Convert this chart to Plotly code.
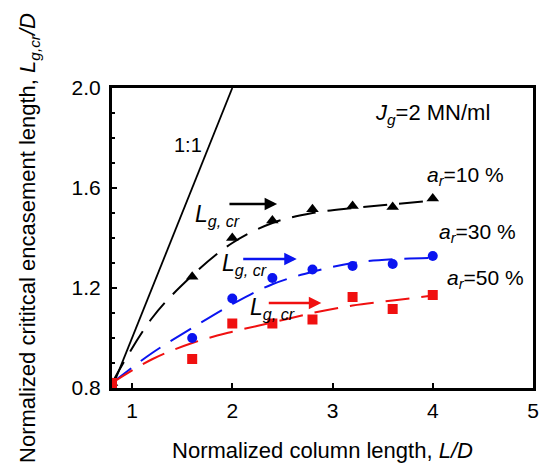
import plotly.graph_objects as go

# measured data (markers)
x_pts = [0.8, 1.6, 2.0, 2.4, 2.8, 3.2, 3.6, 4.0]
y_ar10 = [0.82, 1.245, 1.40, 1.47, 1.515, 1.528, 1.524, 1.558]
y_ar30 = [0.82, 1.00, 1.158, 1.24, 1.274, 1.288, 1.296, 1.328]
y_ar50 = [0.82, 0.916, 1.058, 1.058, 1.074, 1.164, 1.116, 1.172]

# fitted trend curves
x_fit = [0.8, 1.2, 1.6, 2.0, 2.4, 2.8, 3.2, 3.6, 4.0]
fit_ar10 = [0.82, 1.08, 1.25, 1.38, 1.46, 1.50, 1.52, 1.535, 1.55]
fit_ar30 = [0.82, 0.94, 1.04, 1.135, 1.215, 1.265, 1.30, 1.315, 1.32]
fit_ar50 = [0.82, 0.915, 0.98, 1.025, 1.062, 1.10, 1.13, 1.15, 1.17]

# 1:1 line
x_one = [0.8, 2.0]
y_one = [0.8, 2.0]

FONT = "Arial, Liberation Sans, sans-serif"
colors = {"k": "black", "b": "#0a14f0", "r": "#f01010"}

fig = go.Figure()
fig.add_trace(go.Scatter(x=x_one, y=y_one, mode="lines",
                         line=dict(color="black", width=1.8), showlegend=False))

for fit, col in [(fit_ar10, colors["k"]), (fit_ar30, colors["b"]), (fit_ar50, colors["r"])]:
    fig.add_trace(go.Scatter(x=x_fit, y=fit, mode="lines",
                             line=dict(color=col, width=2, dash="24px,12px", shape="spline"),
                             showlegend=False))

for ys, col, sym, sz in [(y_ar10, colors["k"], "triangle-up", 11),
                         (y_ar30, colors["b"], "circle", 10),
                         (y_ar50, colors["r"], "square", 10)]:
    fig.add_trace(go.Scatter(x=x_pts, y=ys, mode="markers",
                             marker=dict(color=col, symbol=sym, size=sz),
                             showlegend=False))

def px2x(px):
    return 0.8 + (px - 112) / 102.0

def py2y(py):
    return 2.0 - (py - 88) * 0.004

ann = []
# arrows
for (x0, x1, yy, col) in [(230, 280, 204, colors["k"]), (244, 300, 259, colors["b"]), (270, 325, 303, colors["r"])]:
    ann.append(dict(x=px2x(x1), y=py2y(yy), ax=px2x(x0), ay=py2y(yy), xref="x", yref="y",
                    axref="x", ayref="y", showarrow=True, arrowhead=2, arrowsize=1,
                    arrowwidth=2.5, arrowcolor=col, text=""))
# L_g,cr labels
lab = "<i>L</i><sub><i>g, cr</i></sub>"
for (px, py) in [(194, 215), (222, 264), (250, 308)]:
    ann.append(dict(x=px2x(px), y=py2y(py), xref="x", yref="y", text=lab, showarrow=False,
                    xanchor="left", yanchor="middle", font=dict(size=23, color="black", family=FONT)))

ann.append(dict(x=px2x(173), y=py2y(145), xref="x", yref="y", text="1:1", showarrow=False,
                xanchor="left", yanchor="middle", font=dict(size=20, color="black", family=FONT)))
ann.append(dict(x=px2x(378), y=py2y(114), xref="x", yref="y", text="<i>J</i><sub><i>g</i></sub>=2 MN/ml",
                showarrow=False, xanchor="left", yanchor="middle",
                font=dict(size=22, color="black", family=FONT)))
for (px, py, t) in [(431, 176, "10 %"), (443, 233, "30 %"), (451, 279, "50 %")]:
    ann.append(dict(x=px2x(px), y=py2y(py), xref="x", yref="y",
                    text="<i>a</i><sub><i>r</i></sub>=" + t, showarrow=False,
                    xanchor="left", yanchor="middle",
                    font=dict(size=21, color="black", family=FONT)))

fig.update_layout(
    width=549, height=470,
    margin=dict(l=112, r=10, t=88, b=82),
    paper_bgcolor="white", plot_bgcolor="white",
    font=dict(family=FONT, size=21, color="black"),
    annotations=ann,
    xaxis=dict(range=[0.8, 5.0], tickvals=[1, 2, 3, 4, 5], ticktext=["1", "2", "3", "4", "5"],
               showgrid=False, zeroline=False, showline=True, linecolor="black", linewidth=3,
               mirror=True, ticks="inside", ticklen=5, tickwidth=1.5, tickcolor="black",
               ticklabelstandoff=2,
               title=dict(text="Normalized column length, <i>L/D</i>", standoff=22,
                          font=dict(size=22))),
    yaxis=dict(range=[0.8, 2.0], tickvals=[0.8, 1.2, 1.6, 2.0],
               ticktext=["0.8", "1.2", "1.6", "2.0"],
               showgrid=False, zeroline=False, showline=True, linecolor="black", linewidth=3,
               mirror=True, ticks="inside", ticklen=5, tickwidth=1.5, tickcolor="black",
               ticklabelstandoff=4,
               minor=dict(dtick=0.1, ticks="inside", ticklen=3, tickcolor="black"),
               title=dict(text="Normalized crititcal encasement length, <i>L</i><sub><i>g,cr</i></sub><i>/D</i>",
                          standoff=30, font=dict(size=22))),
)

fig.write_html("out.html")
